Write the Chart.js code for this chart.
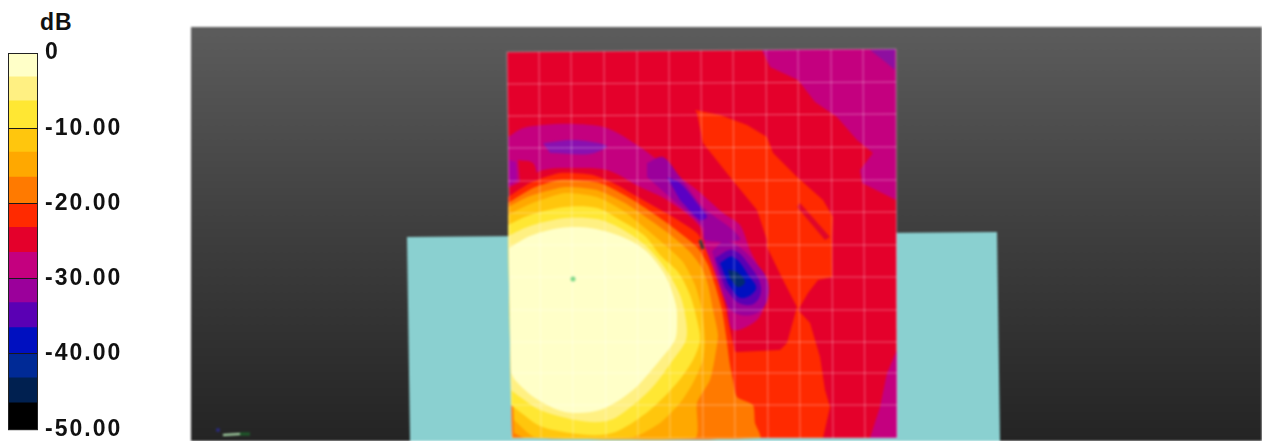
<!DOCTYPE html>
<html>
<head>
<meta charset="utf-8">
<title>dB map</title>
<script src="https://cdn.jsdelivr.net/npm/chart.js@4"></script>
<style>
  html, body { margin: 0; padding: 0; background: #fff; overflow: hidden; }
  #page { position: relative; width: 1262px; height: 441px; overflow: hidden; }
  canvas { position: absolute; }
  #bar { left: 0; top: 0; }
  #map { left: 191px; top: 27px; filter: blur(0.9px); }
  #unit { position: absolute; left: 40px; top: 11px; font: bold 23px/23px "Liberation Sans", sans-serif; letter-spacing: 1px; color: #111; }
</style>
</head>
<body>
<div id="page">
  <div id="unit">dB</div>
  <canvas id="bar" width="130" height="451"></canvas>
  <canvas id="map" width="1071" height="414"></canvas>
</div>
<script>
/* ---- colour scale ---- */
const bandEdges  = [0, -3.07, -6.27, -10, -13.07, -16.4, -20, -23.07, -26.4, -30, -33.07, -36.4, -40, -43.07, -46.4, -50];
const bandColors = ['#ffffc8', '#fff082', '#ffe733', '#ffc60d', '#ffa800', '#ff7a00', '#ff2a00', '#e4002b',
                    '#c4007f', '#9b009b', '#5a00b4', '#0010c0', '#002a96', '#002050', '#000000'];
const scaleTicks = [0, -10, -20, -30, -40, -50];

/* ---- scene, in picture units ---- */
const teal      = [[407,237],[997,232],[1000,441],[410,441]];
const plane     = [[507,52],[762,50],[896,49],[897,438],[512,438]];

const magentaNE = [[762,50],[770,67],[798,80],[815,102],[837,117],[857,140],[873,153],[860,170],[862,183],[896,200],[896,49]];
const purpleNE  = [[870,50],[895,49],[895,70],[883,60]];
const magentaSE = [[897,350],[887,373],[880,407],[870,438],[897,438]];

const redArea   = [[695,110],[720,115],[747,125],[767,137],[773,153],[797,177],[823,200],[833,217],[832,237],[832,277],[818,280],
                   [808,293],[798,310],[810,323],[820,357],[825,390],[830,407],[823,438],[740,438],[733,375],[728,350],[737,352],
                   [780,350],[787,343],[797,307],[783,280],[767,247],[767,240],[757,210],[730,177],[703,143],[697,113]];
const sliver    = [[800,203],[830,237],[825,240],[797,207]];

const magentaArc = [[508,137],[523,128],[543,125],[575,124],[607,128],[640,147],[670,170],[697,190],[723,213],[740,225],[750,250],
                    [765,280],[767,297],[757,320],[733,330],[726,303],[717,283],[707,260],[700,227],[667,200],[640,187],
                    [607,170],[573,168],[543,170],[518,183],[508,188]];
const crimsonGap = [[518,160],[533,163],[536,178],[520,183]];
const purpleW    = [[509,160],[516,162],[517,180],[509,185]];
const purpleArcA = [[543,143],[575,140],[607,146],[590,154],[550,153]];
const purpleArcB = [[647,163],[663,157],[680,177],[703,207],[733,230],[740,240],[705,240],[703,227],[673,200],[647,177]];
const indigoArc  = [[667,177],[680,183],[700,207],[707,217],[700,220],[680,200]];

const spotPurple = [[712,251],[727,241],[755,262],[769,287],[759,312],[733,312],[721,287]];
const spotIndigo = [[715,258],[733,250],[750,266],[761,287],[755,303],[739,303],[725,288]];
const spotBlue   = [[720,263],[733,257],[749,276],[756,289],[741,298],[728,284]];
const spotNavy   = [[728,270],[737,272],[745,282],[738,287],[730,278]];

const hotRed    = [[508,197],[530,183],[560,173],[593,175],[617,185],[643,200],[673,217],[697,233],[704,245],[712,265],[719,285],
                   [726,310],[731,335],[735,352],[740,400],[745,438],[512,438]];
const hotDark   = [[508,203],[533,188],[560,180],[600,183],[633,200],[667,223],[697,247],[708,265],[715,285],[722,310],[726,335],
                   [730,365],[733,380],[737,397],[753,405],[755,423],[760,438],[512,438]];
const hotOrange = [[508,207],[530,196],[565,187],[597,190],[625,203],[650,220],[672,236],[690,252],[702,268],[708,285],[713,310],
                   [718,335],[715,357],[710,380],[697,403],[695,438],[525,438],[514,433]];
const hotGold   = [[508,215],[530,204],[565,193],[597,197],[622,210],[645,228],[665,245],[683,262],[695,285],[702,310],[705,340],
                   [703,360],[693,383],[680,403],[660,423],[633,437],[535,437],[514,420]];
const hotYellow = [[508,225],[530,215],[565,207],[597,208],[620,220],[645,236],[660,255],[678,272],[690,295],[697,320],[700,340],
                   [693,360],[677,383],[650,410],[620,430],[600,435],[570,433],[540,426],[520,412],[511,405]];
const hotLight  = [[508,236],[530,226],[565,218],[597,219],[620,228],[645,245],[665,268],[680,295],[686,320],[686,340],[673,360],
                   [650,390],[617,417],[600,422],[575,420],[540,410],[520,397],[511,390]];
const hotCream  = [[509,248],[530,236],[560,228],[590,228],[620,236],[645,250],[665,275],[676,305],[677,325],[675,340],[660,360],
                   [633,390],[600,410],[565,412],[535,398],[515,380],[511,372]];

/* mesh lines on the plane */
const meshTop    = [507,539,571,604,637,669,701,733,766,798,831,863,896];
const meshBottom = [512,541,573,606,638,670,703,735,768,800,833,865,897];
const meshLeft   = [52,84,116,148,181,213,245,277,310,342,373,405,438];
const meshLeftX  = [507,507,508,508,508,509,509,510,510,511,511,512,512];
const meshRightY = [49,82,114,147,180,212,245,277,310,342,373,405,438];

const source   = [[573,279]];
const speck    = [[700,240],[703,249]];
const axisX    = [[223,435],[240,434]];
const axisTail = [[240,434],[250,434]];
const axisZ    = [[218,430]];

/* ---- colour bar ---- */
const barSets = bandColors.map((c, i) => ({
  data: [[bandEdges[i], bandEdges[i + 1]]],
  backgroundColor: c,
  borderWidth: 0,
  barPercentage: 1,
  categoryPercentage: 1
}));

const barFrame = {
  id: 'barFrame',
  beforeDraw (chart) { chart.ctx.letterSpacing = '2px'; },
  afterDraw (chart) {
    const { ctx, chartArea: a } = chart;
    ctx.save();
    ctx.letterSpacing = '0px';
    ctx.strokeStyle = '#222';
    ctx.strokeRect(a.left - 0.5, a.top + 0.5, a.width + 1, a.height);
    ctx.restore();
  }
};

new Chart(document.getElementById('bar'), {
  type: 'bar',
  data: { labels: ['dB'], datasets: barSets },
  plugins: [barFrame],
  options: {
    responsive: false,
    animation: false,
    devicePixelRatio: 1,
    grouped: false,
    layout: { autoPadding: false, padding: { left: 9, top: 53, bottom: 0, right: 0 } },
    plugins: { legend: { display: false }, tooltip: { enabled: false } },
    scales: {
      x: { display: false },
      y: {
        position: 'right',
        min: -50,
        max: 0,
        afterFit (s) { s.width = 93; },
        afterBuildTicks (s) { s.ticks = scaleTicks.map(v => ({ value: v })); },
        border: { display: false },
        grid: { color: '#1a1a1a', lineWidth: 1, drawTicks: false, z: 1 },
        ticks: {
          padding: 8,
          color: '#111',
          font: { family: '"Liberation Sans"', weight: 'bold', size: 23 },
          callback: v => v === 0 ? '0' : v.toFixed(2)
        }
      }
    }
  }
});

/* ---- map ---- */
const pts = a => a.map(p => ({ x: p[0], y: p[1] }));
const poly = (a, color, tension = 0) => ({ data: pts(a), showLine: true, fill: 'shape', backgroundColor: color, borderWidth: 0, pointRadius: 0, tension });
const line = (a, color, w) => ({ data: pts(a), showLine: true, fill: false, borderColor: color, borderWidth: w, pointRadius: 0, tension: 0 });
const dot  = (a, color, r) => ({ data: pts(a), showLine: false, pointRadius: r, pointBackgroundColor: color, pointBorderWidth: 0 });

const meshColor = 'rgba(255,255,255,.34)';
const meshSets = [
  ...meshTop.map((x, i) => line([[x, meshRightY[0] + (52 - 49) * (1 - i / 12)], [meshBottom[i], 438]], meshColor, 1)),
  ...meshLeft.map((y, i) => line([[meshLeftX[i], y], [896 + i / 12, meshRightY[i]]], meshColor, 1))
];

const layers = [
  poly(teal, '#8ad0d0'),
  poly(plane, '#e4002b'),
  poly(magentaNE, '#c4007f'),
  poly(purpleNE, '#8e0fa0'),
  poly(magentaSE, '#c4007f'),
  poly(redArea, '#ff2a00'),
  poly(sliver, '#e0062a'),
  poly(magentaArc, '#c4007f', 0.3),
  poly(crimsonGap, '#e4002b', 0.3),
  poly(purpleW, '#a800a0'),
  poly(purpleArcA, '#8a10b0', 0.3),
  poly(purpleArcB, '#9b009b', 0.3),
  poly(indigoArc, '#5a00c4', 0.3),
  poly(spotPurple, '#9b009b', 0.4),
  poly(spotIndigo, '#5a00b4', 0.4),
  poly(spotBlue, '#0010c0', 0.4),
  poly(spotNavy, '#002a70', 0.4),
  poly(hotRed, '#ff2a00', 0.2),
  poly(hotDark, '#ff7a00', 0.2),
  poly(hotOrange, '#ffa800', 0.2),
  poly(hotGold, '#ffc60d', 0.2),
  poly(hotYellow, '#ffe733', 0.3),
  poly(hotLight, '#fff082', 0.3),
  poly(hotCream, '#ffffc8', 0.3),
  ...meshSets,
  dot(source, '#7fd88a', 2.5),
  line(speck, '#3a3a40', 3),
  line(axisTail, '#1f5a2a', 3),
  line(axisX, '#b4e8b4', 2),
  dot(axisZ, '#2a2a80', 2)
];
layers.forEach((d, i) => { d.order = -i; });

const backdrop = {
  id: 'backdrop',
  beforeDraw (chart) {
    const { ctx, chartArea: a } = chart;
    const g = ctx.createLinearGradient(0, a.top, 0, a.bottom);
    g.addColorStop(0, '#5c5c5c');
    g.addColorStop(0.5, '#3e3e3e');
    g.addColorStop(1, '#242424');
    ctx.save();
    ctx.fillStyle = g;
    ctx.fillRect(a.left, a.top, a.width, a.height);
    ctx.restore();
  }
};

new Chart(document.getElementById('map'), {
  type: 'scatter',
  data: { datasets: layers },
  plugins: [backdrop],
  options: {
    responsive: false,
    animation: false,
    devicePixelRatio: 1,
    layout: { autoPadding: false, padding: 0 },
    plugins: { legend: { display: false }, tooltip: { enabled: false } },
    scales: {
      x: { display: false, min: 191, max: 1262 },
      y: { display: false, min: 27, max: 441, reverse: true }
    }
  }
});
</script>
</body>
</html>
